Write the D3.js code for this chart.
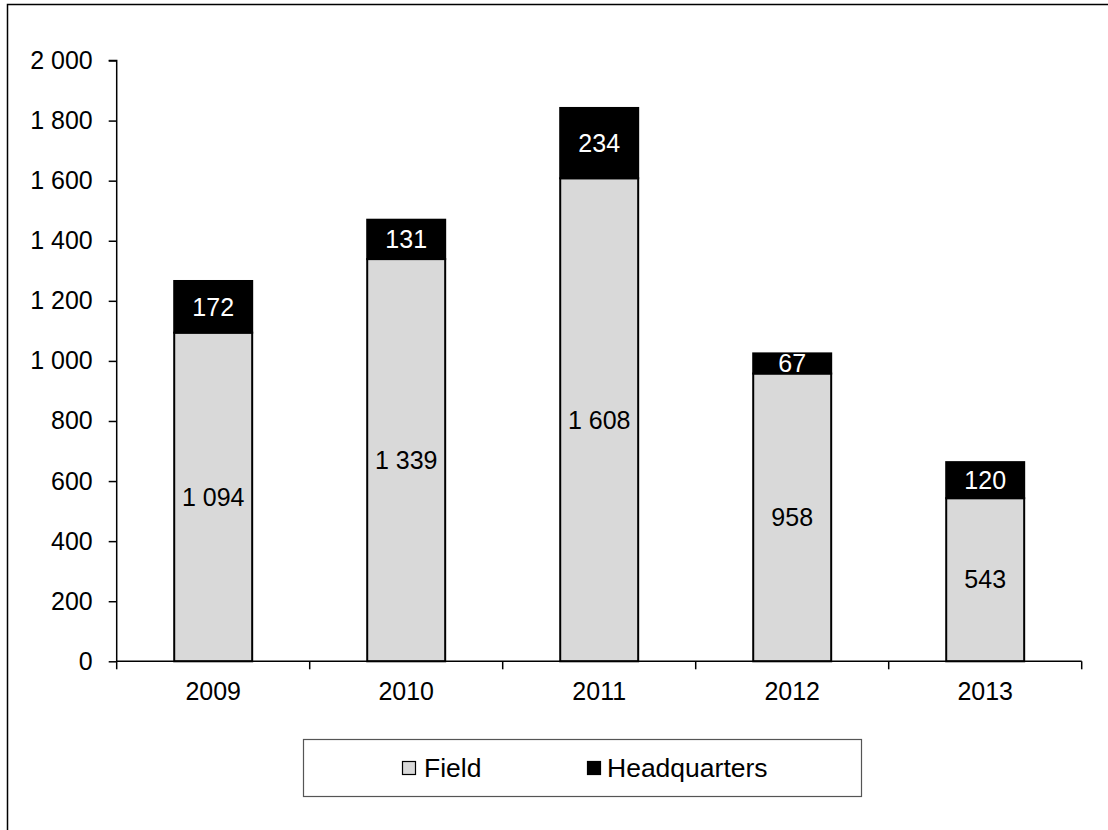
<!DOCTYPE html>
<html><head><meta charset="utf-8">
<script src="https://cdn.jsdelivr.net/npm/d3@7"></script>
<style>body{margin:0;background:#fff}svg{display:block}text{font-family:"Liberation Sans",Arial,sans-serif}</style>
</head><body><svg id="c" width="1108" height="830"></svg>
<script>
const years = ["2009","2010","2011","2012","2013"];
const field = [1094,1339,1608,958,543];
const headquarters = [172,131,234,67,120];
const yTicks = [0,200,400,600,800,1000,1200,1400,1600,1800,2000];
const seriesNames = ["Field","Headquarters"];

const FS = 25;
const svg = d3.select("#c");
const fmt = v => d3.format(",")(v).replace(/,/g," ");
svg.append("rect").attr("x",7.5).attr("y",4.5).attr("width",1200).attr("height",1000)
  .attr("fill","none").attr("stroke","#000").attr("stroke-width",1.5);

const x0 = 116.7, x1 = 1081.7, yTop = 60.5, yBot = 661.3;
const x = d3.scaleBand().domain(years).range([x0,x1]).paddingInner(0.596).paddingOuter(0.298);
const y = d3.scaleLinear().domain([0,2000]).range([yBot,yTop]);

const data = years.map((yr,i)=>({yr, f:field[i], h:headquarters[i]}));
const g = svg.append("g");
g.selectAll(".f").data(data).join("rect")
  .attr("x",d=>x(d.yr)).attr("width",x.bandwidth())
  .attr("y",d=>y(d.f)).attr("height",d=>y(0)-y(d.f))
  .attr("fill","#d9d9d9").attr("stroke","#000").attr("stroke-width",2);
g.selectAll(".h").data(data).join("rect")
  .attr("x",d=>x(d.yr)).attr("width",x.bandwidth())
  .attr("y",d=>y(d.f+d.h)).attr("height",d=>y(d.f)-y(d.f+d.h))
  .attr("fill","#000").attr("stroke","#000").attr("stroke-width",2);
g.selectAll(".fl").data(data).join("text")
  .attr("x",d=>x(d.yr)+x.bandwidth()/2).attr("y",d=>y(d.f/2))
  .attr("dy","0.35em").attr("text-anchor","middle").attr("font-size",FS).attr("fill","#000")
  .text(d=>fmt(d.f));
g.selectAll(".hl").data(data).join("text")
  .attr("x",d=>x(d.yr)+x.bandwidth()/2).attr("y",d=>y(d.f+d.h/2))
  .attr("dy","0.35em").attr("text-anchor","middle").attr("font-size",FS).attr("fill","#fff")
  .text(d=>fmt(d.h));

const ya = svg.append("g").attr("transform",`translate(${x0},0)`)
  .call(d3.axisLeft(y).tickValues(yTicks).tickFormat(fmt).tickSize(8).tickPadding(16));
ya.attr("font-size",FS).attr("font-family","'Liberation Sans',Arial,sans-serif");
ya.selectAll("text").attr("font-size",FS).attr("fill","#000");
ya.selectAll("line,path").attr("stroke","#000").attr("stroke-width",1.5);
ya.select("path").attr("d",`M-8,${yTop}H0V${yBot}`);

const xa = svg.append("g").attr("transform",`translate(0,${yBot})`)
  .call(d3.axisBottom(x).tickSize(0).tickPadding(21));
xa.attr("font-size",FS).attr("font-family","'Liberation Sans',Arial,sans-serif");
xa.selectAll("text").attr("font-size",FS).attr("fill","#000");
xa.select("path").attr("stroke","#000").attr("stroke-width",1.5).attr("d",`M${x0},0H${x1}`);
const step = x.step();
xa.selectAll(".bt").data(d3.range(years.length+1)).join("line")
  .attr("x1",i=>x0+i*step).attr("x2",i=>x0+i*step).attr("y1",0).attr("y2",8)
  .attr("stroke","#000").attr("stroke-width",1.5);

const lg = svg.append("g");
lg.append("rect").attr("x",303.5).attr("y",739.5).attr("width",558).attr("height",57)
  .attr("fill","#fff").attr("stroke","#555").attr("stroke-width",1.2);
const legItems = [{n:seriesNames[0],c:"#d9d9d9",sx:402,tx:424},{n:seriesNames[1],c:"#000",sx:587,tx:607}];
legItems.forEach(it=>{
  lg.append("rect").attr("x",it.sx+0.5).attr("y",761.5).attr("width",13).attr("height",13)
    .attr("fill",it.c).attr("stroke","#000").attr("stroke-width",1.2);
  lg.append("text").attr("x",it.tx).attr("y",768).attr("dy","0.35em").attr("font-size",26.5).attr("fill","#000").text(it.n);
});
</script></body></html>
